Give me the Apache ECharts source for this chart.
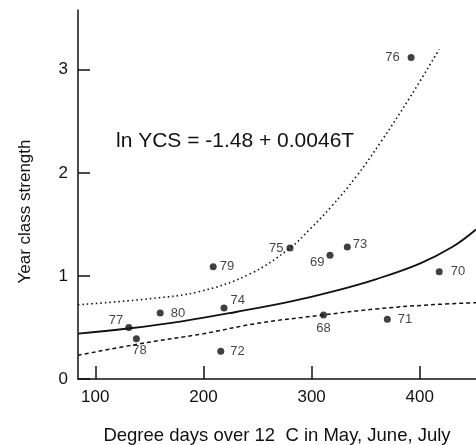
<!DOCTYPE html>
<html>
<head>
<meta charset="utf-8">
<script src="https://cdn.jsdelivr.net/npm/echarts@6/dist/echarts.min.js"></script>
<style>
  html, body { margin: 0; padding: 0; background: #fff; }
  #chart { width: 476px; height: 445px; }
</style>
</head>
<body>
<div id="chart"></div>
<script>
// year labels and observations (degree days, year class strength)
const years = ['76', '79', '75', '80', '74', '77', '78', '72', '69', '73', '70', '68', '71'];
const degreeDays = [392, 209, 280, 160, 219, 131, 138, 216, 317, 333, 418, 311, 370];
const ycs = [3.12, 1.09, 1.27, 0.64, 0.69, 0.50, 0.39, 0.27, 1.20, 1.28, 1.04, 0.62, 0.58];

// fitted curve and the two bounds
const fitT = [84, 130, 180, 230, 280, 320, 360, 400, 430, 452];
const fitY = [0.44, 0.49, 0.56, 0.65, 0.75, 0.85, 0.97, 1.12, 1.28, 1.45];
const upperT = [84, 151, 197, 243, 280, 299, 318, 341, 364, 392, 418];
const upperY = [0.72, 0.78, 0.85, 1.02, 1.27, 1.46, 1.67, 1.96, 2.30, 2.75, 3.20];
const lowerT = [84, 140, 200, 250, 310, 360, 410, 452];
const lowerY = [0.23, 0.34, 0.44, 0.54, 0.62, 0.68, 0.72, 0.74];

const xTicks = [100, 200, 300, 400];
const equation = 'ln YCS = -1.48 + 0.0046T';

// where each year label sits next to its dot
const labelPos = {
  '76': { position: 'left', distance: 8 },
  '79': { position: 'right', distance: 3 },
  '75': { position: 'left', distance: 3 },
  '80': { position: 'right', distance: 7 },
  '74': { position: 'right', distance: 3, offset: [0, -7] },
  '77': { position: 'left', distance: 2, offset: [0, -7] },
  '78': { position: 'bottom', distance: 2, offset: [3, 0] },
  '72': { position: 'right', distance: 6 },
  '69': { position: 'left', distance: 2, offset: [0, 7] },
  '73': { position: 'right', distance: 2, offset: [0, -3] },
  '70': { position: 'right', distance: 8 },
  '68': { position: 'bottom', distance: 3 },
  '71': { position: 'right', distance: 7 }
};

const zip = (a, b) => a.map((v, i) => [v, b[i]]);
const font = 'Liberation Sans, Arial, Helvetica, sans-serif';

const chart = echarts.init(document.getElementById('chart'));
chart.setOption({
  animation: false,
  textStyle: { fontFamily: font, color: '#111' },
  grid: { left: 78, right: 0, top: 10, bottom: 66, containLabel: false, outerBoundsMode: 'none' },
  xAxis: {
    type: 'value',
    min: 84,
    max: 452,
    name: 'Degree days over 12  C in May, June, July',
    nameLocation: 'middle',
    nameGap: 47,
    nameTextStyle: { fontSize: 18.5, color: '#111', fontFamily: font },
    axisLine: { lineStyle: { color: '#111', width: 1.5 } },
    axisTick: { inside: true, length: 13, customValues: xTicks, lineStyle: { color: '#111', width: 1.5 } },
    axisLabel: { customValues: xTicks, fontSize: 17, color: '#111', margin: 10 },
    splitLine: { show: false }
  },
  yAxis: {
    type: 'value',
    min: 0,
    max: 3.58,
    interval: 1,
    name: 'Year class strength',
    nameLocation: 'middle',
    nameRotate: 90,
    nameGap: 44,
    nameTextStyle: { fontSize: 17, color: '#111', fontFamily: font, padding: [0, 34, 0, 0] },
    axisLine: { lineStyle: { color: '#111', width: 1.5 } },
    axisTick: { inside: true, length: 12, lineStyle: { color: '#111', width: 1.5 } },
    axisLabel: { fontSize: 17, color: '#111', margin: 10, showMaxLabel: false },
    splitLine: { show: false }
  },
  graphic: [{
    type: 'text',
    left: 116,
    top: 131,
    style: { text: equation, font: '21px ' + font, fill: '#111' }
  }],
  series: [
    {
      type: 'line',
      data: zip(fitT, fitY),
      smooth: 0.4,
      showSymbol: false,
      lineStyle: { color: '#111', width: 1.8 },
      z: 2
    },
    {
      type: 'line',
      data: zip(upperT, upperY),
      smooth: 0.4,
      showSymbol: false,
      lineStyle: { color: '#111', width: 1.6, type: [1.5, 3] },
      z: 2
    },
    {
      type: 'line',
      data: zip(lowerT, lowerY),
      smooth: 0.4,
      showSymbol: false,
      lineStyle: { color: '#111', width: 1.5, type: [4, 3] },
      z: 2
    },
    {
      type: 'scatter',
      symbolSize: 7,
      itemStyle: { color: '#111' },
      label: { show: true, fontSize: 13, color: '#111', fontFamily: font },
      data: years.map((yr, i) => ({
        value: [degreeDays[i], ycs[i]],
        label: Object.assign({ formatter: yr }, labelPos[yr])
      })),
      z: 3
    }
  ]
});
</script>
</body>
</html>
